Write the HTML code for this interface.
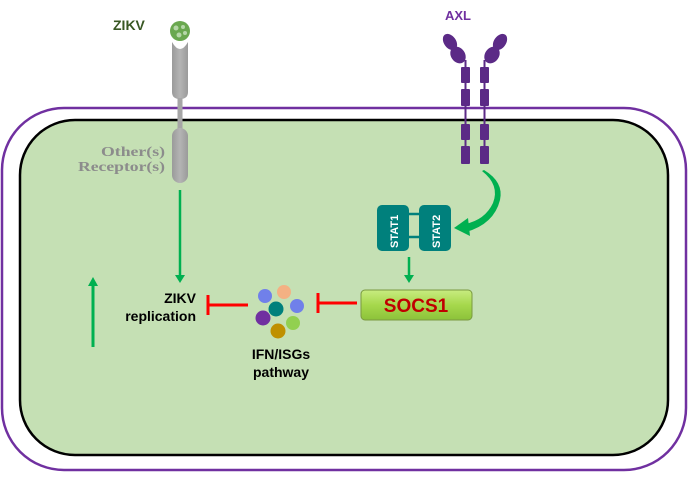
<!DOCTYPE html>
<html><head><style>
html,body{margin:0;padding:0;background:#fff;}
body{width:689px;height:473px;overflow:hidden;}
</style></head><body>
<svg width="689" height="473" viewBox="0 0 689 473" xmlns="http://www.w3.org/2000/svg" font-family="Liberation Sans, sans-serif">
<defs>
<linearGradient id="sg" x1="0" y1="0" x2="0" y2="1">
<stop offset="0" stop-color="#c8ec80"/><stop offset="0.5" stop-color="#a6d84c"/><stop offset="1" stop-color="#8cc23a"/>
</linearGradient>
<linearGradient id="gr" x1="0" y1="0" x2="1" y2="0">
<stop offset="0" stop-color="#9a9a9a"/><stop offset="0.5" stop-color="#b4b4b4"/><stop offset="1" stop-color="#9a9a9a"/>
</linearGradient>
</defs>
<rect x="2" y="108" width="684" height="362" rx="62" fill="#fff" stroke="#7030a0" stroke-width="2.5"/>
<rect x="20" y="120" width="648" height="335" rx="55" fill="#c5e0b4" stroke="#000" stroke-width="2.5"/>

<!-- ZIKV -->
<text x="113" y="30" font-size="14" font-weight="bold" fill="#385723">ZIKV</text>
<circle cx="180" cy="31" r="10" fill="#6aa84f"/>
<circle cx="176" cy="28" r="2.5" fill="#b6d7a8"/><circle cx="183" cy="27" r="2" fill="#b6d7a8"/><circle cx="179" cy="35" r="2.5" fill="#b6d7a8"/><circle cx="185" cy="33" r="2" fill="#b6d7a8"/>
<path d="M172 42 Q180 56 188 42 L188 92 Q188 99 180 99 Q172 99 172 92 Z" fill="url(#gr)"/>
<rect x="177.5" y="98" width="5" height="32" fill="#a6a6a6"/>
<rect x="172" y="128" width="16" height="55" rx="8" fill="url(#gr)"/>
<text x="101" y="156" font-family="Liberation Serif, serif" font-size="14" font-weight="bold" fill="#8c8c8c" textLength="64" lengthAdjust="spacingAndGlyphs">Other(s)</text>
<text x="78" y="171" font-family="Liberation Serif, serif" font-size="14" font-weight="bold" fill="#8c8c8c" textLength="87" lengthAdjust="spacingAndGlyphs">Receptor(s)</text>
<line x1="180" y1="190" x2="180" y2="276" stroke="#00b050" stroke-width="2.5"/>
<polygon points="175,275 185,275 180,283" fill="#00b050"/>

<!-- up arrow -->
<line x1="93" y1="285" x2="93" y2="347" stroke="#00b050" stroke-width="3"/>
<polygon points="88,286 98,286 93,277" fill="#00b050"/>

<text x="196" y="303" font-size="14" font-weight="bold" fill="#000" text-anchor="end">ZIKV</text>
<text x="196" y="321" font-size="14" font-weight="bold" fill="#000" text-anchor="end">replication</text>
<line x1="208" y1="305" x2="248" y2="305" stroke="#ff0000" stroke-width="3"/>
<line x1="208" y1="295" x2="208" y2="315" stroke="#ff0000" stroke-width="3"/>

<!-- dots -->
<circle cx="265" cy="296" r="7" fill="#7080ea"/>
<circle cx="284" cy="292" r="7" fill="#f4b183"/>
<circle cx="276" cy="309" r="7.5" fill="#00807c"/>
<circle cx="297" cy="306" r="7" fill="#7080ea"/>
<circle cx="263" cy="318" r="7.5" fill="#7030a0"/>
<circle cx="293" cy="323" r="7" fill="#92d050"/>
<circle cx="278" cy="331" r="7.5" fill="#bf9000"/>
<text x="281" y="359" font-size="14" font-weight="bold" fill="#000" text-anchor="middle">IFN/ISGs</text>
<text x="281" y="377" font-size="14" font-weight="bold" fill="#000" text-anchor="middle">pathway</text>

<line x1="318" y1="303" x2="357" y2="303" stroke="#ff0000" stroke-width="3"/>
<line x1="318" y1="293" x2="318" y2="313" stroke="#ff0000" stroke-width="3"/>

<!-- SOCS1 -->
<rect x="361" y="290" width="111" height="30" rx="4" fill="url(#sg)" stroke="#7a9a40" stroke-width="1"/>
<text x="416" y="312" font-size="19" font-weight="bold" fill="#c00000" text-anchor="middle">SOCS1</text>

<!-- STAT -->
<line x1="409" y1="257" x2="409" y2="276" stroke="#00b050" stroke-width="2.5"/>
<polygon points="404,275 414,275 409,283" fill="#00b050"/>
<line x1="405" y1="214" x2="422" y2="214" stroke="#00807c" stroke-width="2.5"/>
<line x1="405" y1="237" x2="422" y2="237" stroke="#00807c" stroke-width="2.5"/>
<rect x="377" y="205" width="32" height="46" rx="5" fill="#00807c"/>
<rect x="419" y="205" width="32" height="46" rx="5" fill="#00807c"/>
<text transform="translate(398,248) rotate(-90)" font-size="11" font-weight="bold" fill="#fff">STAT1</text>
<text transform="translate(440,248) rotate(-90)" font-size="11" font-weight="bold" fill="#fff">STAT2</text>

<!-- curved arrow -->
<path d="M482 171 Q500 185 493 203 Q485 220 465 224 L466 232 Q494 224 500 200 Q504 182 484 170 Z" fill="#00b050"/>
<polygon points="454,228 468,218 470,236" fill="#00b050"/>

<!-- AXL -->
<text x="445" y="20" font-size="13" font-weight="bold" fill="#7030a0">AXL</text>
<g fill="#5b2a86">
<ellipse cx="450" cy="42" rx="6" ry="9" transform="rotate(-35 450 42)"/>
<ellipse cx="458" cy="55" rx="7" ry="9" transform="rotate(-35 458 55)"/>
<ellipse cx="500" cy="42" rx="6" ry="9" transform="rotate(35 500 42)"/>
<ellipse cx="492" cy="55" rx="7" ry="9" transform="rotate(35 492 55)"/>
<rect x="464.5" y="60" width="2" height="104"/>
<rect x="483.5" y="60" width="2" height="104"/>
<rect x="461" y="67" width="9" height="16" rx="1"/>
<rect x="461" y="89" width="9" height="17" rx="1"/>
<rect x="461" y="124" width="9" height="16" rx="1"/>
<rect x="461" y="146" width="9" height="18" rx="1"/>
<rect x="480" y="67" width="9" height="16" rx="1"/>
<rect x="480" y="89" width="9" height="17" rx="1"/>
<rect x="480" y="124" width="9" height="16" rx="1"/>
<rect x="480" y="146" width="9" height="18" rx="1"/>
</g>
</svg>
</body></html>
